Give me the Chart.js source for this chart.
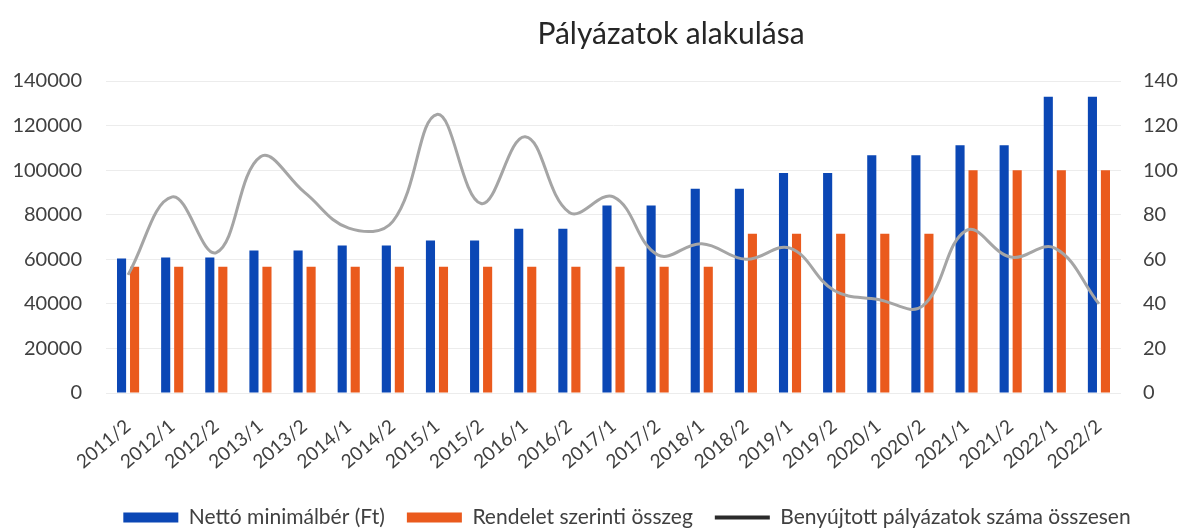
<!DOCTYPE html>
<html>
<head>
<meta charset="utf-8">
<script src="https://cdn.jsdelivr.net/npm/chart.js@4"></script>
<style>
  html, body { margin: 0; padding: 0; background: #fff; }
  #wrap { position: relative; width: 1182px; height: 529px; }
  #title {
    position: absolute; left: 0; top: 14px; width: 1182px;
    text-align: center; padding-left: 160px; box-sizing: border-box;
    font-family: Lato, "Open Sans", sans-serif; font-size: 30px; color: #262626;
  }
</style>
</head>
<body>
<div id="wrap">
  <div id="title">Pályázatok alakulása</div>
  <canvas id="chart" width="1182" height="529"></canvas>
</div>
<script>
// Pályázatok alakulása - félévenként
const periods = ['2011/2', '2012/1', '2012/2', '2013/1', '2013/2', '2014/1', '2014/2', '2015/1',
  '2015/2', '2016/1', '2016/2', '2017/1', '2017/2', '2018/1', '2018/2', '2019/1', '2019/2',
  '2020/1', '2020/2', '2021/1', '2021/2', '2022/1', '2022/2'];
const nettoMinimalber = [60300, 60750, 60750, 63900, 63900, 66150, 66150, 68400, 68400, 73650, 73650,
  84150, 84150, 91650, 91650, 98700, 98700, 106650, 106650, 111150, 111150, 132900, 132900];
const rendeletOsszeg = [56700, 56700, 56700, 56700, 56700, 56700, 56700, 56700, 56700, 56700, 56700,
  56700, 56700, 56700, 71500, 71500, 71500, 71500, 71500, 100000, 100000, 100000, 100000];
const palyazatokSzama = [53, 88, 63, 106, 90, 74, 77, 125, 85, 115, 81, 88, 62, 67, 60, 65, 46, 42, 39, 73, 61, 65, 40];
const leftTicks = [0, 20000, 40000, 60000, 80000, 100000, 120000, 140000];

const FONT = 'Lato, "Open Sans", sans-serif';
const TEXT = '#404040';

// a jelmagyarázat lejjebb és kicsit jobbra, mint az eredetin
const legendShift = {
  id: 'legendShift',
  afterLayout(chart) {
    const lg = chart.legend;
    lg.top += 11; lg.bottom += 11;
    lg.left += 32; lg.right += 32;
  }
};

const ctx = document.getElementById('chart').getContext('2d');
new Chart(ctx, {
  type: 'bar',
  data: {
    labels: periods,
    datasets: [{
      label: 'Nettó minimálbér (Ft)',
      data: nettoMinimalber,
      backgroundColor: '#0b47b5',
      yAxisID: 'y',
      order: 1,
      categoryPercentage: 0.59,
      barPercentage: 0.7
    }, {
      label: 'Rendelet szerinti összeg',
      data: rendeletOsszeg,
      backgroundColor: '#ea5a1d',
      yAxisID: 'y',
      order: 1,
      categoryPercentage: 0.59,
      barPercentage: 0.7
    }, {
      type: 'line',
      label: 'Benyújtott pályázatok száma összesen',
      data: palyazatokSzama,
      borderColor: '#a5a5a5',
      borderWidth: 3,
      pointRadius: 0,
      tension: 0.4,
      yAxisID: 'y2',
      order: 0
    }]
  },
  plugins: [legendShift],
  options: {
    responsive: false,
    animation: false,
    layout: { padding: { top: 81, left: 12, right: 4, bottom: 2 } },
    scales: {
      x: {
        grid: { display: false },
        border: { display: false },
        afterFit: axis => { axis.paddingLeft = 0; axis.paddingRight = 0; axis.height = 81; },
        ticks: { color: TEXT, font: { family: FONT, size: 19 }, minRotation: 40, maxRotation: 40, padding: 14 }
      },
      y: {
        position: 'left',
        min: 0, max: 140000,
        afterBuildTicks: axis => { axis.ticks = leftTicks.map(v => ({ value: v })); },
        afterFit: axis => { axis.width = 94; },
        grid: { color: '#ececec', drawTicks: false },
        border: { display: false },
        ticks: { color: TEXT, font: { family: FONT, size: 20 }, padding: 24, callback: v => String(v) }
      },
      y2: {
        position: 'right',
        min: 0, max: 140,
        afterFit: axis => { axis.width = 57; },
        ticks: { stepSize: 20, color: TEXT, font: { family: FONT, size: 20 }, padding: 22 },
        grid: { display: false, drawTicks: false },
        border: { display: false }
      }
    },
    plugins: {
      legend: {
        position: 'bottom',
        labels: {
          color: TEXT,
          font: { family: FONT, size: 21 },
          usePointStyle: true,
          pointStyleWidth: 55,
          boxHeight: 10,
          padding: 22,
          sort: (a, b) => a.datasetIndex - b.datasetIndex,
          generateLabels: chart => {
            const items = Chart.defaults.plugins.legend.labels.generateLabels(chart);
            return items.map(it => {
              if (it.datasetIndex === 2) {
                it.pointStyle = 'line';
                it.strokeStyle = '#2b2b2b';
                it.lineWidth = 4;
              } else {
                it.pointStyle = 'rect';
                it.lineWidth = 0;
              }
              return it;
            });
          }
        }
      },
      tooltip: { enabled: false }
    }
  }
});
</script>
</body>
</html>
